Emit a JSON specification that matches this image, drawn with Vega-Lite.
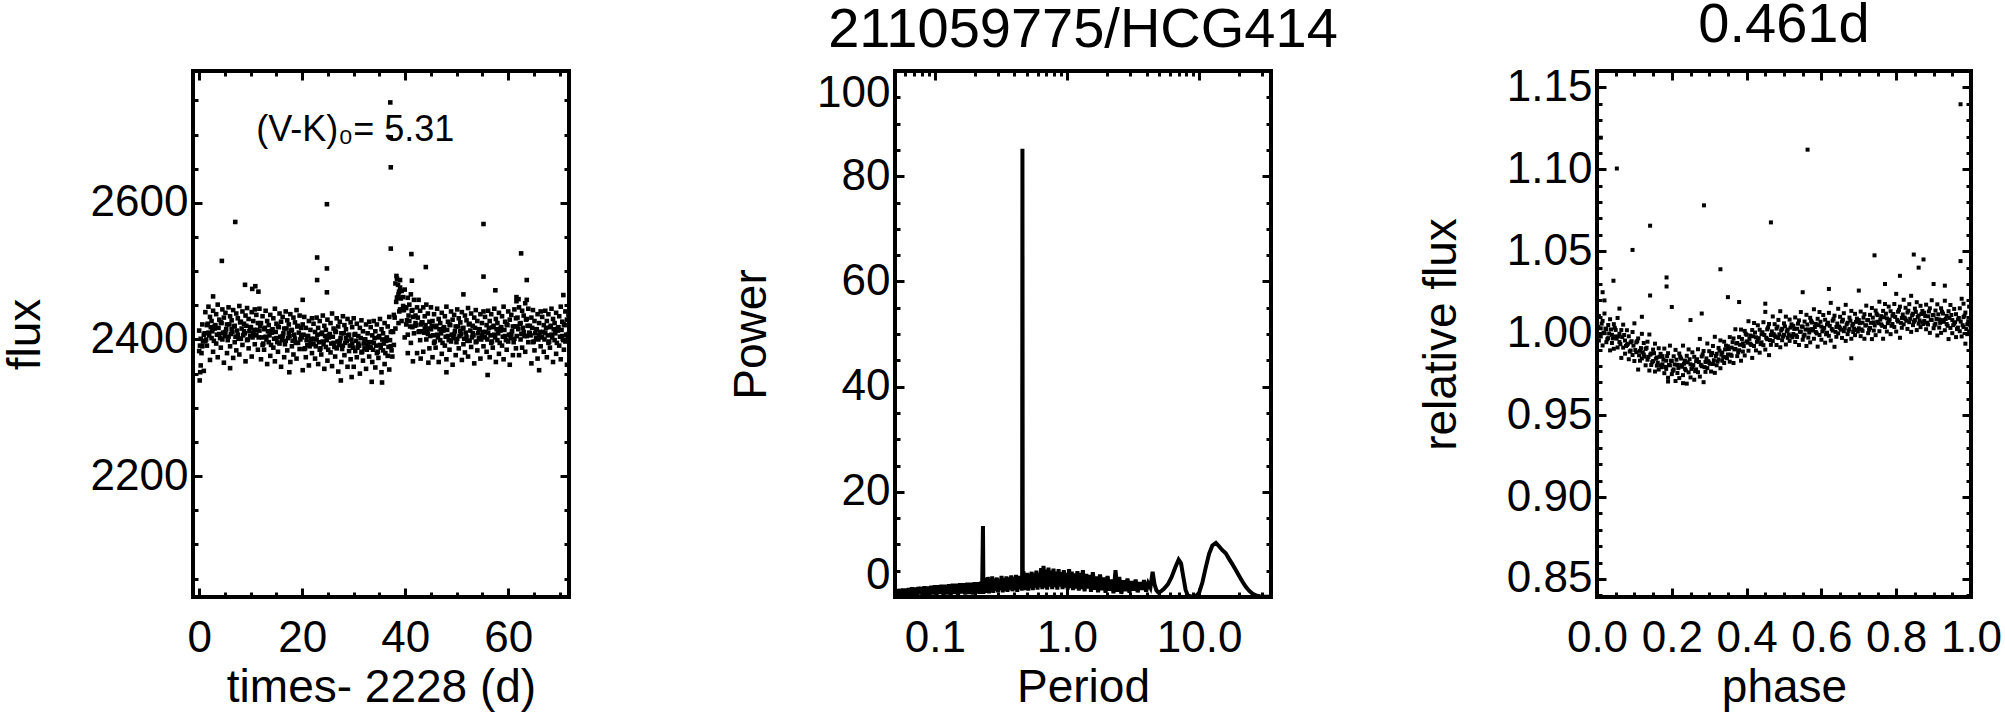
{
 "$schema": "https://vega.github.io/schema/vega-lite/v6.json",
 "background": "white",
 "padding": {"left": 0, "top": -5, "right": 0, "bottom": 0},
 "bounds": "flush",
 "spacing": 326,
 "config": {
  "font": "Liberation Sans",
  "view": {"stroke": "black", "strokeWidth": 4},
  "axis": {"domain": false, "grid": false, "labelFont": "Liberation Sans", "labelFontSize": 44, "labelColor": "black", "titleFont": "Liberation Sans", "titleFontSize": 46, "titleFontWeight": "normal", "titleColor": "black", "tickColor": "black", "tickWidth": 3, "labelOverlap": false, "labelBound": false, "labelFlush": false},
  "axisX": {"labelPadding": 28, "titlePadding": 1},
  "axisY": {"labelPadding": 14, "titlePadding": 41},
  "title": {"font": "Liberation Sans", "fontSize": 56, "fontWeight": "normal", "color": "black", "anchor": "middle", "offset": 11, "baseline": "alphabetic"}
 },
 "datasets": {
  "lc": [
{"t":0,"f":2413},{"t":0,"f":2383},{"t":0.3,"f":2401},{"t":0.3,"f":2362},{"t":0.6,"f":2422},{"t":0.6,"f":2390},{"t":0.9,"f":2407},{"t":0.9,"f":2354},
{"t":1.2,"f":2440},{"t":1.2,"f":2398},{"t":1.5,"f":2421},{"t":1.5,"f":2391},{"t":1.8,"f":2448},{"t":1.8,"f":2410},{"t":2.1,"f":2433},{"t":2.1,"f":2370},
{"t":2.4,"f":2427},{"t":2.4,"f":2402},{"t":2.7,"f":2442},{"t":2.7,"f":2382},{"t":3,"f":2419},{"t":3,"f":2416},{"t":3.3,"f":2437},{"t":3.3,"f":2394},
{"t":3.6,"f":2451},{"t":3.6,"f":2374},{"t":3.9,"f":2429},{"t":3.9,"f":2408},{"t":4.2,"f":2425},{"t":4.2,"f":2388},{"t":4.5,"f":2444},{"t":4.5,"f":2400},
{"t":4.8,"f":2432},{"t":4.8,"f":2366},{"t":5.1,"f":2439},{"t":5.1,"f":2411},{"t":5.4,"f":2422},{"t":5.4,"f":2380},{"t":5.7,"f":2447},{"t":5.7,"f":2404},
{"t":6,"f":2434},{"t":6,"f":2390},{"t":6.3,"f":2428},{"t":6.3,"f":2415},{"t":6.6,"f":2443},{"t":6.6,"f":2373},{"t":6.9,"f":2420},{"t":6.9,"f":2396},
{"t":7.2,"f":2438},{"t":7.2,"f":2384},{"t":7.5,"f":2431},{"t":7.5,"f":2407},{"t":7.8,"f":2449},{"t":7.8,"f":2378},{"t":8.1,"f":2426},{"t":8.1,"f":2401},
{"t":8.4,"f":2441},{"t":8.4,"f":2392},{"t":8.7,"f":2423},{"t":8.7,"f":2412},{"t":9,"f":2435},{"t":9,"f":2368},{"t":9.3,"f":2446},{"t":9.3,"f":2399},
{"t":9.6,"f":2430},{"t":9.6,"f":2387},{"t":9.9,"f":2418},{"t":9.9,"f":2405},{"t":10.2,"f":2440},{"t":10.2,"f":2375},{"t":10.5,"f":2427},{"t":10.5,"f":2409},
{"t":10.8,"f":2444},{"t":10.8,"f":2393},{"t":11.1,"f":2436},{"t":11.1,"f":2406},{"t":11.4,"f":2424},{"t":11.4,"f":2385},{"t":11.7,"f":2445},{"t":11.7,"f":2413},
{"t":12,"f":2424},{"t":12,"f":2371},{"t":12.3,"f":2434},{"t":12.3,"f":2392},{"t":12.6,"f":2415},{"t":12.6,"f":2385},{"t":12.9,"f":2442},{"t":12.9,"f":2404},
{"t":13.2,"f":2427},{"t":13.2,"f":2364},{"t":13.5,"f":2421},{"t":13.5,"f":2396},{"t":13.8,"f":2436},{"t":13.8,"f":2376},{"t":14.1,"f":2413},{"t":14.1,"f":2410},
{"t":14.4,"f":2431},{"t":14.4,"f":2388},{"t":14.7,"f":2445},{"t":14.7,"f":2368},{"t":15,"f":2423},{"t":15,"f":2402},{"t":15.3,"f":2419},{"t":15.3,"f":2382},
{"t":15.6,"f":2438},{"t":15.6,"f":2394},{"t":15.9,"f":2426},{"t":15.9,"f":2360},{"t":16.2,"f":2433},{"t":16.2,"f":2405},{"t":16.5,"f":2416},{"t":16.5,"f":2374},
{"t":16.8,"f":2441},{"t":16.8,"f":2398},{"t":17.1,"f":2428},{"t":17.1,"f":2384},{"t":17.4,"f":2422},{"t":17.4,"f":2409},{"t":17.7,"f":2437},{"t":17.7,"f":2367},
{"t":18,"f":2414},{"t":18,"f":2390},{"t":18.3,"f":2432},{"t":18.3,"f":2378},{"t":18.6,"f":2425},{"t":18.6,"f":2401},{"t":18.9,"f":2443},{"t":18.9,"f":2372},
{"t":19.2,"f":2420},{"t":19.2,"f":2395},{"t":19.5,"f":2435},{"t":19.5,"f":2386},{"t":19.8,"f":2417},{"t":19.8,"f":2406},{"t":20.1,"f":2422},{"t":20.1,"f":2355},
{"t":20.4,"f":2433},{"t":20.4,"f":2386},{"t":20.7,"f":2417},{"t":20.7,"f":2374},{"t":21,"f":2405},{"t":21,"f":2392},{"t":21.3,"f":2427},{"t":21.3,"f":2362},
{"t":21.6,"f":2414},{"t":21.6,"f":2396},{"t":21.9,"f":2431},{"t":21.9,"f":2380},{"t":22.2,"f":2423},{"t":22.2,"f":2393},{"t":22.5,"f":2411},{"t":22.5,"f":2372},
{"t":22.8,"f":2432},{"t":22.8,"f":2400},{"t":23.1,"f":2417},{"t":23.1,"f":2364},{"t":23.4,"f":2427},{"t":23.4,"f":2385},{"t":23.7,"f":2408},{"t":23.7,"f":2378},
{"t":24,"f":2435},{"t":24,"f":2397},{"t":24.3,"f":2420},{"t":24.3,"f":2357},{"t":24.6,"f":2414},{"t":24.6,"f":2389},{"t":24.9,"f":2429},{"t":24.9,"f":2369},
{"t":25.2,"f":2406},{"t":25.2,"f":2403},{"t":25.5,"f":2424},{"t":25.5,"f":2381},{"t":25.8,"f":2438},{"t":25.8,"f":2361},{"t":26.1,"f":2416},{"t":26.1,"f":2395},
{"t":26.4,"f":2412},{"t":26.4,"f":2375},{"t":26.7,"f":2431},{"t":26.7,"f":2387},{"t":27,"f":2419},{"t":27,"f":2353},{"t":27.3,"f":2426},{"t":27.3,"f":2398},
{"t":27.6,"f":2409},{"t":27.6,"f":2367},{"t":27.9,"f":2434},{"t":27.9,"f":2391},{"t":28.2,"f":2421},{"t":28.2,"f":2377},{"t":28.5,"f":2415},{"t":28.5,"f":2402},
{"t":28.8,"f":2430},{"t":28.8,"f":2360},{"t":29.1,"f":2407},{"t":29.1,"f":2383},{"t":29.4,"f":2425},{"t":29.4,"f":2371},{"t":29.7,"f":2418},{"t":29.7,"f":2394},
{"t":30,"f":2431},{"t":30,"f":2360},{"t":30.3,"f":2408},{"t":30.3,"f":2383},{"t":30.6,"f":2423},{"t":30.6,"f":2374},{"t":30.9,"f":2405},{"t":30.9,"f":2394},
{"t":31.2,"f":2417},{"t":31.2,"f":2350},{"t":31.5,"f":2428},{"t":31.5,"f":2381},{"t":31.8,"f":2412},{"t":31.8,"f":2369},{"t":32.1,"f":2400},{"t":32.1,"f":2387},
{"t":32.4,"f":2422},{"t":32.4,"f":2357},{"t":32.7,"f":2409},{"t":32.7,"f":2391},{"t":33,"f":2426},{"t":33,"f":2375},{"t":33.3,"f":2418},{"t":33.3,"f":2388},
{"t":33.6,"f":2406},{"t":33.6,"f":2367},{"t":33.9,"f":2427},{"t":33.9,"f":2395},{"t":34.2,"f":2412},{"t":34.2,"f":2359},{"t":34.5,"f":2422},{"t":34.5,"f":2380},
{"t":34.8,"f":2403},{"t":34.8,"f":2373},{"t":35.1,"f":2430},{"t":35.1,"f":2392},{"t":35.4,"f":2415},{"t":35.4,"f":2352},{"t":35.7,"f":2409},{"t":35.7,"f":2384},
{"t":36,"f":2424},{"t":36,"f":2364},{"t":36.3,"f":2401},{"t":36.3,"f":2398},{"t":36.6,"f":2419},{"t":36.6,"f":2376},{"t":36.9,"f":2433},{"t":36.9,"f":2356},
{"t":37.2,"f":2411},{"t":37.2,"f":2390},{"t":37.5,"f":2412},{"t":37.5,"f":2375},{"t":37.8,"f":2436},{"t":37.8,"f":2392},{"t":38.1,"f":2482},{"t":38.1,"f":2416},
{"t":38.4,"f":2489},{"t":38.4,"f":2461},{"t":38.7,"f":2466},{"t":38.7,"f":2424},{"t":39,"f":2487},{"t":39,"f":2444},{"t":39.3,"f":2471},{"t":39.3,"f":2427},
{"t":39.6,"f":2462},{"t":39.6,"f":2449},{"t":39.9,"f":2473},{"t":39.9,"f":2403},{"t":40.2,"f":2446},{"t":40.2,"f":2422},{"t":40.5,"f":2461},{"t":40.5,"f":2407},
{"t":40.8,"f":2451},{"t":40.8,"f":2427},{"t":41.1,"f":2466},{"t":41.1,"f":2395},{"t":41.4,"f":2443},{"t":41.4,"f":2418},{"t":41.7,"f":2458},{"t":41.7,"f":2409},
{"t":42,"f":2435},{"t":42,"f":2424},{"t":42.3,"f":2447},{"t":42.3,"f":2380},{"t":42.6,"f":2458},{"t":42.6,"f":2411},{"t":42.9,"f":2442},{"t":42.9,"f":2399},
{"t":43.2,"f":2425},{"t":43.2,"f":2412},{"t":43.5,"f":2447},{"t":43.5,"f":2382},{"t":43.8,"f":2434},{"t":43.8,"f":2416},{"t":44.1,"f":2451},{"t":44.1,"f":2400},
{"t":44.4,"f":2438},{"t":44.4,"f":2408},{"t":44.7,"f":2426},{"t":44.7,"f":2387},{"t":45,"f":2447},{"t":45,"f":2415},{"t":45.3,"f":2427},{"t":45.3,"f":2374},
{"t":45.6,"f":2437},{"t":45.6,"f":2395},{"t":45.9,"f":2418},{"t":45.9,"f":2388},{"t":46.2,"f":2445},{"t":46.2,"f":2407},{"t":46.5,"f":2430},{"t":46.5,"f":2367},
{"t":46.8,"f":2424},{"t":46.8,"f":2399},{"t":47.1,"f":2439},{"t":47.1,"f":2379},{"t":47.4,"f":2416},{"t":47.4,"f":2413},{"t":47.7,"f":2434},{"t":47.7,"f":2391},
{"t":48,"f":2448},{"t":48,"f":2371},{"t":48.3,"f":2426},{"t":48.3,"f":2405},{"t":48.6,"f":2422},{"t":48.6,"f":2385},{"t":48.9,"f":2441},{"t":48.9,"f":2397},
{"t":49.2,"f":2429},{"t":49.2,"f":2363},{"t":49.5,"f":2436},{"t":49.5,"f":2408},{"t":49.8,"f":2419},{"t":49.8,"f":2377},{"t":50.1,"f":2444},{"t":50.1,"f":2401},
{"t":50.4,"f":2431},{"t":50.4,"f":2387},{"t":50.7,"f":2425},{"t":50.7,"f":2412},{"t":51,"f":2440},{"t":51,"f":2370},{"t":51.3,"f":2417},{"t":51.3,"f":2393},
{"t":51.6,"f":2435},{"t":51.6,"f":2381},{"t":51.9,"f":2428},{"t":51.9,"f":2404},{"t":52.2,"f":2446},{"t":52.2,"f":2375},{"t":52.5,"f":2423},{"t":52.5,"f":2398},
{"t":52.8,"f":2438},{"t":52.8,"f":2389},{"t":53.1,"f":2420},{"t":53.1,"f":2409},{"t":53.4,"f":2432},{"t":53.4,"f":2365},{"t":53.7,"f":2443},{"t":53.7,"f":2396},
{"t":54,"f":2427},{"t":54,"f":2384},{"t":54.3,"f":2415},{"t":54.3,"f":2402},{"t":54.6,"f":2437},{"t":54.6,"f":2372},{"t":54.9,"f":2424},{"t":54.9,"f":2406},
{"t":55.2,"f":2441},{"t":55.2,"f":2390},{"t":55.5,"f":2433},{"t":55.5,"f":2403},{"t":55.8,"f":2421},{"t":55.8,"f":2382},{"t":56.1,"f":2442},{"t":56.1,"f":2410},
{"t":56.4,"f":2427},{"t":56.4,"f":2374},{"t":56.7,"f":2437},{"t":56.7,"f":2395},{"t":57,"f":2418},{"t":57,"f":2388},{"t":57.3,"f":2445},{"t":57.3,"f":2407},
{"t":57.6,"f":2430},{"t":57.6,"f":2367},{"t":57.9,"f":2424},{"t":57.9,"f":2399},{"t":58.2,"f":2439},{"t":58.2,"f":2379},{"t":58.5,"f":2416},{"t":58.5,"f":2413},
{"t":58.8,"f":2434},{"t":58.8,"f":2391},{"t":59.1,"f":2448},{"t":59.1,"f":2371},{"t":59.4,"f":2426},{"t":59.4,"f":2405},{"t":59.7,"f":2422},{"t":59.7,"f":2385},
{"t":60,"f":2441},{"t":60,"f":2397},{"t":60.3,"f":2429},{"t":60.3,"f":2363},{"t":60.6,"f":2436},{"t":60.6,"f":2408},{"t":60.9,"f":2419},{"t":60.9,"f":2377},
{"t":61.2,"f":2444},{"t":61.2,"f":2401},{"t":61.5,"f":2431},{"t":61.5,"f":2387},{"t":61.8,"f":2432},{"t":61.8,"f":2419},{"t":62.1,"f":2447},{"t":62.1,"f":2377},
{"t":62.4,"f":2424},{"t":62.4,"f":2400},{"t":62.7,"f":2442},{"t":62.7,"f":2388},{"t":63,"f":2435},{"t":63,"f":2411},{"t":63.3,"f":2453},{"t":63.3,"f":2382},
{"t":63.6,"f":2430},{"t":63.6,"f":2405},{"t":63.9,"f":2445},{"t":63.9,"f":2396},{"t":64.2,"f":2420},{"t":64.2,"f":2409},{"t":64.5,"f":2432},{"t":64.5,"f":2365},
{"t":64.8,"f":2443},{"t":64.8,"f":2396},{"t":65.1,"f":2427},{"t":65.1,"f":2384},{"t":65.4,"f":2415},{"t":65.4,"f":2402},{"t":65.7,"f":2437},{"t":65.7,"f":2372},
{"t":66,"f":2424},{"t":66,"f":2406},{"t":66.3,"f":2441},{"t":66.3,"f":2390},{"t":66.6,"f":2433},{"t":66.6,"f":2403},{"t":66.9,"f":2421},{"t":66.9,"f":2382},
{"t":67.2,"f":2442},{"t":67.2,"f":2410},{"t":67.5,"f":2427},{"t":67.5,"f":2374},{"t":67.8,"f":2437},{"t":67.8,"f":2395},{"t":68.1,"f":2418},{"t":68.1,"f":2388},
{"t":68.4,"f":2445},{"t":68.4,"f":2407},{"t":68.7,"f":2430},{"t":68.7,"f":2367},{"t":69,"f":2424},{"t":69,"f":2399},{"t":69.3,"f":2439},{"t":69.3,"f":2379},
{"t":69.6,"f":2416},{"t":69.6,"f":2413},{"t":69.9,"f":2434},{"t":69.9,"f":2391},{"t":70.2,"f":2448},{"t":70.2,"f":2371},{"t":70.5,"f":2426},{"t":70.5,"f":2405},
{"t":70.8,"f":2422},{"t":70.8,"f":2385},{"t":71.1,"f":2441},{"t":71.1,"f":2397},{"t":71.4,"f":2429},{"t":71.4,"f":2363},{"t":71.7,"f":2436},{"t":71.7,"f":2408},
{"t":0.15,"f":2391},{"t":0.45,"f":2380},{"t":0.75,"f":2397},{"t":1.05,"f":2409},{"t":1.35,"f":2400},{"t":1.65,"f":2423},{"t":1.95,"f":2406},{"t":2.25,"f":2418},
{"t":2.55,"f":2412},{"t":2.85,"f":2398},{"t":3.15,"f":2421},{"t":3.45,"f":2407},{"t":3.75,"f":2417},{"t":4.05,"f":2402},{"t":4.35,"f":2424},{"t":4.65,"f":2410},
{"t":4.95,"f":2405},{"t":5.25,"f":2415},{"t":5.55,"f":2399},{"t":5.85,"f":2422},{"t":6.15,"f":2408},{"t":6.45,"f":2411},{"t":6.75,"f":2419},{"t":7.05,"f":2404},
{"t":7.35,"f":2413},{"t":7.65,"f":2401},{"t":7.95,"f":2425},{"t":8.25,"f":2416},{"t":8.55,"f":2406},{"t":8.85,"f":2409},{"t":9.15,"f":2420},{"t":9.45,"f":2400},
{"t":9.75,"f":2412},{"t":10.05,"f":2418},{"t":10.35,"f":2403},{"t":10.65,"f":2414},{"t":10.95,"f":2407},{"t":11.25,"f":2414},{"t":11.55,"f":2403},{"t":11.85,"f":2420},
{"t":12.15,"f":2403},{"t":12.45,"f":2394},{"t":12.75,"f":2417},{"t":13.05,"f":2400},{"t":13.35,"f":2412},{"t":13.65,"f":2406},{"t":13.95,"f":2392},{"t":14.25,"f":2415},
{"t":14.55,"f":2401},{"t":14.85,"f":2411},{"t":15.15,"f":2396},{"t":15.45,"f":2418},{"t":15.75,"f":2404},{"t":16.05,"f":2399},{"t":16.35,"f":2409},{"t":16.65,"f":2393},
{"t":16.95,"f":2416},{"t":17.25,"f":2402},{"t":17.55,"f":2405},{"t":17.85,"f":2413},{"t":18.15,"f":2398},{"t":18.45,"f":2407},{"t":18.75,"f":2395},{"t":19.05,"f":2419},
{"t":19.35,"f":2410},{"t":19.65,"f":2400},{"t":19.95,"f":2403},{"t":20.25,"f":2407},{"t":20.55,"f":2387},{"t":20.85,"f":2399},{"t":21.15,"f":2405},{"t":21.45,"f":2390},
{"t":21.75,"f":2401},{"t":22.05,"f":2394},{"t":22.35,"f":2401},{"t":22.65,"f":2390},{"t":22.95,"f":2407},{"t":23.25,"f":2396},{"t":23.55,"f":2387},{"t":23.85,"f":2410},
{"t":24.15,"f":2393},{"t":24.45,"f":2405},{"t":24.75,"f":2399},{"t":25.05,"f":2385},{"t":25.35,"f":2408},{"t":25.65,"f":2394},{"t":25.95,"f":2404},{"t":26.25,"f":2389},
{"t":26.55,"f":2411},{"t":26.85,"f":2397},{"t":27.15,"f":2392},{"t":27.45,"f":2402},{"t":27.75,"f":2386},{"t":28.05,"f":2409},{"t":28.35,"f":2395},{"t":28.65,"f":2398},
{"t":28.95,"f":2406},{"t":29.25,"f":2391},{"t":29.55,"f":2400},{"t":29.85,"f":2388},{"t":30.15,"f":2407},{"t":30.45,"f":2398},{"t":30.75,"f":2388},{"t":31.05,"f":2391},
{"t":31.35,"f":2402},{"t":31.65,"f":2382},{"t":31.95,"f":2394},{"t":32.25,"f":2400},{"t":32.55,"f":2385},{"t":32.85,"f":2396},{"t":33.15,"f":2389},{"t":33.45,"f":2396},
{"t":33.75,"f":2385},{"t":34.05,"f":2402},{"t":34.35,"f":2391},{"t":34.65,"f":2382},{"t":34.95,"f":2405},{"t":35.25,"f":2388},{"t":35.55,"f":2400},{"t":35.85,"f":2394},
{"t":36.15,"f":2380},{"t":36.45,"f":2403},{"t":36.75,"f":2389},{"t":37.05,"f":2399},{"t":37.35,"f":2384},{"t":37.65,"f":2411},{"t":37.95,"f":2432},{"t":38.25,"f":2455},
{"t":38.55,"f":2462},{"t":38.85,"f":2441},{"t":39.15,"f":2460},{"t":39.45,"f":2443},{"t":39.75,"f":2443},{"t":40.05,"f":2447},{"t":40.35,"f":2428},{"t":40.65,"f":2435},
{"t":40.95,"f":2419},{"t":41.25,"f":2442},{"t":41.55,"f":2433},{"t":41.85,"f":2420},{"t":42.15,"f":2421},{"t":42.45,"f":2432},{"t":42.75,"f":2412},{"t":43.05,"f":2422},
{"t":43.35,"f":2425},{"t":43.65,"f":2410},{"t":43.95,"f":2421},{"t":44.25,"f":2411},{"t":44.55,"f":2416},{"t":44.85,"f":2405},{"t":45.15,"f":2420},{"t":45.45,"f":2406},
{"t":45.75,"f":2397},{"t":46.05,"f":2420},{"t":46.35,"f":2403},{"t":46.65,"f":2415},{"t":46.95,"f":2409},{"t":47.25,"f":2395},{"t":47.55,"f":2418},{"t":47.85,"f":2404},
{"t":48.15,"f":2414},{"t":48.45,"f":2399},{"t":48.75,"f":2421},{"t":49.05,"f":2407},{"t":49.35,"f":2402},{"t":49.65,"f":2412},{"t":49.95,"f":2396},{"t":50.25,"f":2419},
{"t":50.55,"f":2405},{"t":50.85,"f":2408},{"t":51.15,"f":2416},{"t":51.45,"f":2401},{"t":51.75,"f":2410},{"t":52.05,"f":2398},{"t":52.35,"f":2422},{"t":52.65,"f":2413},
{"t":52.95,"f":2403},{"t":53.25,"f":2406},{"t":53.55,"f":2417},{"t":53.85,"f":2397},{"t":54.15,"f":2409},{"t":54.45,"f":2415},{"t":54.75,"f":2400},{"t":55.05,"f":2411},
{"t":55.35,"f":2404},{"t":55.65,"f":2411},{"t":55.95,"f":2400},{"t":56.25,"f":2417},{"t":56.55,"f":2406},{"t":56.85,"f":2397},{"t":57.15,"f":2420},{"t":57.45,"f":2403},
{"t":57.75,"f":2415},{"t":58.05,"f":2409},{"t":58.35,"f":2395},{"t":58.65,"f":2418},{"t":58.95,"f":2404},{"t":59.25,"f":2414},{"t":59.55,"f":2399},{"t":59.85,"f":2421},
{"t":60.15,"f":2407},{"t":60.45,"f":2402},{"t":60.75,"f":2412},{"t":61.05,"f":2396},{"t":61.35,"f":2419},{"t":61.65,"f":2405},{"t":61.95,"f":2415},{"t":62.25,"f":2423},
{"t":62.55,"f":2408},{"t":62.85,"f":2417},{"t":63.15,"f":2405},{"t":63.45,"f":2429},{"t":63.75,"f":2420},{"t":64.05,"f":2410},{"t":64.35,"f":2406},{"t":64.65,"f":2417},
{"t":64.95,"f":2397},{"t":65.25,"f":2409},{"t":65.55,"f":2415},{"t":65.85,"f":2400},{"t":66.15,"f":2411},{"t":66.45,"f":2404},{"t":66.75,"f":2411},{"t":67.05,"f":2400},
{"t":67.35,"f":2417},{"t":67.65,"f":2406},{"t":67.95,"f":2397},{"t":68.25,"f":2420},{"t":68.55,"f":2403},{"t":68.85,"f":2415},{"t":69.15,"f":2409},{"t":69.45,"f":2395},
{"t":69.75,"f":2418},{"t":70.05,"f":2404},{"t":70.35,"f":2414},{"t":70.65,"f":2399},{"t":70.95,"f":2421},{"t":71.25,"f":2407},{"t":71.55,"f":2402},
{"t":37.1,"f":2747},{"t":37.2,"f":2696},{"t":37.2,"f":2652},{"t":24.8,"f":2598},{"t":7.0,"f":2572},{"t":4.4,"f":2515},{"t":22.9,"f":2520},{"t":24.8,"f":2504},
{"t":22.9,"f":2487},{"t":37.2,"f":2533},{"t":41.2,"f":2525},{"t":44.0,"f":2506},{"t":55.2,"f":2569},{"t":55.2,"f":2492},{"t":62.5,"f":2526},{"t":63.6,"f":2487},
{"t":41.3,"f":2486},{"t":8.9,"f":2480},{"t":10.3,"f":2474},{"t":10.9,"f":2478},{"t":11.5,"f":2470},{"t":2.7,"f":2463},{"t":24.8,"f":2469},{"t":20.1,"f":2458},
{"t":51.3,"f":2466},{"t":57.5,"f":2472},{"t":70.7,"f":2465},{"t":61.6,"f":2462},{"t":61.6,"f":2456},{"t":62.0,"f":2459},{"t":63.6,"f":2458},{"t":38.3,"f":2493},
{"t":38.6,"f":2480},{"t":39.0,"f":2476},{"t":38.8,"f":2470},{"t":0.1,"f":2340},{"t":0.2,"f":2352},{"t":27.5,"f":2340},{"t":33.5,"f":2338},{"t":35.5,"f":2337},
{"t":29.6,"f":2345},{"t":41.5,"f":2368},{"t":43.0,"f":2372},{"t":44.5,"f":2366},{"t":40.5,"f":2380},{"t":56.0,"f":2348},{"t":66.0,"f":2355},{"t":48.0,"f":2352},
{"t":17.5,"f":2352},{"t":6.0,"f":2358}
  ],
  "pg": [
{"p":0.05,"w":0.3},{"p":0.0505,"w":1.4},{"p":0.0515,"w":0.2},{"p":0.0525,"w":1.5},{"p":0.0535,"w":0.3},{"p":0.055,"w":1.5},{"p":0.056,"w":0.2},{"p":0.0575,"w":1.6},
{"p":0.059,"w":0.4},{"p":0.0605,"w":1.6},{"p":0.062,"w":0.2},{"p":0.0635,"w":1.7},{"p":0.065,"w":0.3},{"p":0.067,"w":1.8},{"p":0.069,"w":0.4},{"p":0.071,"w":1.8},
{"p":0.073,"w":0.2},{"p":0.075,"w":1.9},{"p":0.077,"w":0.5},{"p":0.079,"w":1.9},{"p":0.081,"w":0.3},{"p":0.0835,"w":2.0},{"p":0.086,"w":0.4},{"p":0.0885,"w":2.0},
{"p":0.091,"w":0.3},{"p":0.094,"w":2.1},{"p":0.097,"w":0.5},{"p":0.1,"w":2.2},{"p":0.103,"w":0.3},{"p":0.106,"w":2.2},{"p":0.109,"w":0.6},{"p":0.112,"w":2.3},
{"p":0.116,"w":0.4},{"p":0.12,"w":2.3},{"p":0.124,"w":0.5},{"p":0.128,"w":2.4},{"p":0.132,"w":0.4},{"p":0.136,"w":2.5},{"p":0.14,"w":0.6},{"p":0.145,"w":2.5},
{"p":0.15,"w":0.4},{"p":0.155,"w":2.6},{"p":0.16,"w":0.7},{"p":0.165,"w":2.6},{"p":0.17,"w":0.5},{"p":0.176,"w":2.7},{"p":0.182,"w":0.6},{"p":0.188,"w":2.7},
{"p":0.194,"w":0.5},{"p":0.2,"w":2.8},{"p":0.206,"w":0.7},{"p":0.212,"w":2.8},{"p":0.218,"w":0.6},{"p":0.224,"w":2.9},{"p":0.228,"w":0.8},{"p":0.2315,"w":13.5},
{"p":0.2335,"w":0.6},{"p":0.236,"w":3.6},{"p":0.24,"w":0.8},{"p":0.244,"w":3.2},{"p":0.248,"w":1.0},{"p":0.252,"w":3.8},{"p":0.257,"w":0.7},{"p":0.262,"w":3.4},
{"p":0.267,"w":1.1},{"p":0.272,"w":3.9},{"p":0.277,"w":0.8},{"p":0.283,"w":3.5},{"p":0.289,"w":1.2},{"p":0.295,"w":3.7},{"p":0.301,"w":0.9},{"p":0.307,"w":3.4},
{"p":0.313,"w":1.3},{"p":0.32,"w":4.0},{"p":0.327,"w":0.9},{"p":0.334,"w":3.6},{"p":0.341,"w":1.2},{"p":0.348,"w":3.9},{"p":0.355,"w":1.0},{"p":0.363,"w":3.7},
{"p":0.371,"w":1.4},{"p":0.379,"w":4.1},{"p":0.387,"w":1.1},{"p":0.395,"w":3.8},{"p":0.403,"w":1.3},{"p":0.412,"w":4.2},{"p":0.421,"w":1.0},{"p":0.43,"w":4.0},
{"p":0.44,"w":1.5},{"p":0.45,"w":3.9},{"p":0.458,"w":1.2},{"p":0.4605,"w":85.2},{"p":0.463,"w":1.5},{"p":0.468,"w":4.9},{"p":0.476,"w":1.3},{"p":0.484,"w":4.3},
{"p":0.492,"w":1.6},{"p":0.5,"w":4.6},{"p":0.51,"w":1.2},{"p":0.52,"w":4.4},{"p":0.53,"w":1.7},{"p":0.541,"w":4.8},{"p":0.552,"w":1.3},{"p":0.563,"w":4.5},
{"p":0.575,"w":1.8},{"p":0.587,"w":5.0},{"p":0.599,"w":1.4},{"p":0.612,"w":4.6},{"p":0.625,"w":1.9},{"p":0.638,"w":5.5},{"p":0.651,"w":1.5},{"p":0.665,"w":5.9},
{"p":0.679,"w":1.8},{"p":0.694,"w":5.2},{"p":0.709,"w":1.4},{"p":0.725,"w":5.6},{"p":0.741,"w":2.0},{"p":0.757,"w":5.0},{"p":0.774,"w":1.5},{"p":0.791,"w":5.4},
{"p":0.809,"w":1.9},{"p":0.827,"w":4.8},{"p":0.846,"w":1.4},{"p":0.865,"w":5.3},{"p":0.885,"w":2.0},{"p":0.905,"w":4.7},{"p":0.926,"w":1.5},{"p":0.947,"w":5.1},
{"p":0.969,"w":1.8},{"p":0.991,"w":4.6},{"p":1.014,"w":1.4},{"p":1.038,"w":5.3},{"p":1.062,"w":1.7},{"p":1.087,"w":4.8},{"p":1.113,"w":1.3},{"p":1.14,"w":4.5},
{"p":1.17,"w":1.6},{"p":1.2,"w":4.9},{"p":1.23,"w":1.2},{"p":1.26,"w":4.6},{"p":1.29,"w":1.5},{"p":1.32,"w":5.1},{"p":1.36,"w":1.1},{"p":1.4,"w":4.4},
{"p":1.44,"w":1.6},{"p":1.48,"w":4.2},{"p":1.52,"w":1.0},{"p":1.57,"w":4.7},{"p":1.62,"w":1.4},{"p":1.67,"w":3.9},{"p":1.72,"w":0.9},{"p":1.78,"w":4.3},
{"p":1.84,"w":1.3},{"p":1.9,"w":3.7},{"p":1.96,"w":0.8},{"p":2.03,"w":4.0},{"p":2.1,"w":1.2},{"p":2.17,"w":3.3},{"p":2.25,"w":0.7},{"p":2.33,"w":5.1},
{"p":2.41,"w":1.0},{"p":2.49,"w":3.8},{"p":2.58,"w":0.6},{"p":2.67,"w":3.2},{"p":2.77,"w":1.1},{"p":2.87,"w":3.5},{"p":2.97,"w":0.8},{"p":3.08,"w":3.0},
{"p":3.19,"w":1.2},{"p":3.31,"w":3.3},{"p":3.43,"w":0.9},{"p":3.56,"w":2.8},{"p":3.69,"w":1.4},{"p":3.83,"w":3.2},{"p":3.97,"w":1.0},{"p":4.12,"w":2.6},
{"p":4.28,"w":1.8},{"p":4.45,"w":4.8},{"p":4.6,"w":2.4},{"p":4.75,"w":1.3},{"p":4.9,"w":0.9},{"p":5.1,"w":1.0},{"p":5.4,"w":1.5},{"p":5.8,"w":2.4},
{"p":6.2,"w":3.8},{"p":6.6,"w":5.6},{"p":7.0,"w":7.1},{"p":7.3,"w":6.4},{"p":7.6,"w":3.8},{"p":7.9,"w":1.4},{"p":8.2,"w":0.3},{"p":8.6,"w":0.1},
{"p":9.0,"w":0.1},{"p":9.5,"w":0.2},{"p":10.0,"w":0.8},{"p":10.6,"w":2.8},{"p":11.2,"w":5.5},{"p":11.9,"w":8.2},{"p":12.6,"w":9.8},{"p":13.4,"w":10.3},
{"p":14.2,"w":9.6},{"p":15.0,"w":8.9},{"p":15.9,"w":8.3},{"p":16.8,"w":7.3},{"p":17.8,"w":6.3},{"p":18.9,"w":5.2},{"p":20.0,"w":4.1},{"p":21.2,"w":3.0},
{"p":22.5,"w":2.0},{"p":23.9,"w":1.2},{"p":25.4,"w":0.6},{"p":27.0,"w":0.3},{"p":28.7,"w":0.15},{"p":30.5,"w":0.08},{"p":32.4,"w":0.05},{"p":35.0,"w":0.03}
  ],
  "ph": [
{"x":0,"r":1.006},{"x":0,"r":1.001},{"x":0.005,"r":1.0105},{"x":0.005,"r":0.9955},{"x":0.01,"r":1.003},{"x":0.01,"r":0.998},{"x":0.015,"r":1.0075},{"x":0.015,"r":0.9925},
{"x":0.02,"r":1.012},{"x":0.02,"r":1.0},{"x":0.025,"r":1.0025},{"x":0.025,"r":0.9945},{"x":0.03,"r":1.005},{"x":0.03,"r":0.997},{"x":0.035,"r":1.0085},{"x":0.035,"r":0.9895},
{"x":0.04,"r":0.999},{"x":0.04,"r":0.994},{"x":0.045,"r":1.0055},{"x":0.045,"r":0.9905},{"x":0.05,"r":1.002},{"x":0.05,"r":0.998},{"x":0.055,"r":1.0093},{"x":0.055,"r":0.9913},
{"x":0.06,"r":0.9996},{"x":0.06,"r":0.9946},{"x":0.065,"r":1.0019},{"x":0.065,"r":0.9849},{"x":0.07,"r":1.0052},{"x":0.07,"r":0.9912},{"x":0.075,"r":0.9955},{"x":0.075,"r":0.9875},
{"x":0.08,"r":1.0018},{"x":0.08,"r":0.9928},{"x":0.085,"r":0.9981},{"x":0.085,"r":0.9841},{"x":0.09,"r":0.9944},{"x":0.09,"r":0.9894},{"x":0.095,"r":1.0007},{"x":0.095,"r":0.9867},
{"x":0.1,"r":1.006},{"x":0.1,"r":0.983},{"x":0.105,"r":0.9944},{"x":0.105,"r":0.9884},{"x":0.11,"r":0.9968},{"x":0.11,"r":0.9778},{"x":0.115,"r":0.9892},{"x":0.115,"r":0.9832},
{"x":0.12,"r":0.9996},{"x":0.12,"r":0.9846},{"x":0.125,"r":0.994},{"x":0.125,"r":0.987},{"x":0.13,"r":0.9904},{"x":0.13,"r":0.9804},{"x":0.135,"r":0.9948},{"x":0.135,"r":0.9838},
{"x":0.14,"r":0.9992},{"x":0.14,"r":0.9772},{"x":0.145,"r":0.9876},{"x":0.145,"r":0.9806},{"x":0.15,"r":0.99},{"x":0.15,"r":0.983},{"x":0.155,"r":0.9936},{"x":0.155,"r":0.9766},
{"x":0.16,"r":0.9852},{"x":0.16,"r":0.9802},{"x":0.165,"r":0.9908},{"x":0.165,"r":0.9778},{"x":0.17,"r":0.9874},{"x":0.17,"r":0.9804},{"x":0.175,"r":0.986},{"x":0.175,"r":0.981},
{"x":0.18,"r":0.9906},{"x":0.18,"r":0.9756},{"x":0.185,"r":0.9832},{"x":0.185,"r":0.9782},{"x":0.19,"r":0.9878},{"x":0.19,"r":0.9728},{"x":0.195,"r":0.9924},{"x":0.195,"r":0.9804},
{"x":0.2,"r":0.983},{"x":0.2,"r":0.975},{"x":0.205,"r":0.9859},{"x":0.205,"r":0.9779},{"x":0.21,"r":0.9898},{"x":0.21,"r":0.9708},{"x":0.215,"r":0.9807},{"x":0.215,"r":0.9757},
{"x":0.22,"r":0.9876},{"x":0.22,"r":0.9726},{"x":0.225,"r":0.9845},{"x":0.225,"r":0.9805},{"x":0.23,"r":0.9924},{"x":0.23,"r":0.9744},{"x":0.235,"r":0.9833},{"x":0.235,"r":0.9783},
{"x":0.24,"r":0.9862},{"x":0.24,"r":0.9692},{"x":0.245,"r":0.9901},{"x":0.245,"r":0.9761},{"x":0.25,"r":0.981},{"x":0.25,"r":0.973},{"x":0.255,"r":0.9883},{"x":0.255,"r":0.9793},
{"x":0.26,"r":0.9856},{"x":0.26,"r":0.9716},{"x":0.265,"r":0.9829},{"x":0.265,"r":0.9779},{"x":0.27,"r":0.9902},{"x":0.27,"r":0.9762},{"x":0.275,"r":0.9965},{"x":0.275,"r":0.9735},
{"x":0.28,"r":0.9858},{"x":0.28,"r":0.9798},{"x":0.285,"r":0.9891},{"x":0.285,"r":0.9701},{"x":0.29,"r":0.9824},{"x":0.29,"r":0.9764},{"x":0.295,"r":0.9937},{"x":0.295,"r":0.9787},
{"x":0.3,"r":0.989},{"x":0.3,"r":0.982},{"x":0.305,"r":0.9866},{"x":0.305,"r":0.9766},{"x":0.31,"r":0.9922},{"x":0.31,"r":0.9812},{"x":0.315,"r":0.9978},{"x":0.315,"r":0.9758},
{"x":0.32,"r":0.9874},{"x":0.32,"r":0.9804},{"x":0.325,"r":0.991},{"x":0.325,"r":0.984},{"x":0.33,"r":0.9956},{"x":0.33,"r":0.9786},{"x":0.335,"r":0.9882},{"x":0.335,"r":0.9832},
{"x":0.34,"r":0.9948},{"x":0.34,"r":0.9818},{"x":0.345,"r":0.9924},{"x":0.345,"r":0.9854},{"x":0.35,"r":0.992},{"x":0.35,"r":0.987},{"x":0.355,"r":0.9976},{"x":0.355,"r":0.9826},
{"x":0.36,"r":0.9912},{"x":0.36,"r":0.9862},{"x":0.365,"r":0.9968},{"x":0.365,"r":0.9818},{"x":0.37,"r":1.0024},{"x":0.37,"r":0.9904},{"x":0.375,"r":0.994},{"x":0.375,"r":0.986},
{"x":0.38,"r":0.9976},{"x":0.38,"r":0.9896},{"x":0.385,"r":1.0022},{"x":0.385,"r":0.9832},{"x":0.39,"r":0.9938},{"x":0.39,"r":0.9888},{"x":0.395,"r":1.0014},{"x":0.395,"r":0.9864},
{"x":0.4,"r":0.999},{"x":0.4,"r":0.995},{"x":0.405,"r":1.0073},{"x":0.405,"r":0.9893},{"x":0.41,"r":0.9986},{"x":0.41,"r":0.9936},{"x":0.415,"r":1.0019},{"x":0.415,"r":0.9849},
{"x":0.42,"r":1.0062},{"x":0.42,"r":0.9922},{"x":0.425,"r":0.9975},{"x":0.425,"r":0.9895},{"x":0.43,"r":1.0048},{"x":0.43,"r":0.9958},{"x":0.435,"r":1.0021},{"x":0.435,"r":0.9881},
{"x":0.44,"r":0.9994},{"x":0.44,"r":0.9944},{"x":0.445,"r":1.0067},{"x":0.445,"r":0.9927},{"x":0.45,"r":1.013},{"x":0.45,"r":0.99},{"x":0.455,"r":1.0023},{"x":0.455,"r":0.9963},
{"x":0.46,"r":1.0056},{"x":0.46,"r":0.9866},{"x":0.465,"r":0.9989},{"x":0.465,"r":0.9929},{"x":0.47,"r":1.0102},{"x":0.47,"r":0.9952},{"x":0.475,"r":1.0055},{"x":0.475,"r":0.9985},
{"x":0.48,"r":1.0028},{"x":0.48,"r":0.9928},{"x":0.485,"r":1.0081},{"x":0.485,"r":0.9971},{"x":0.49,"r":1.0134},{"x":0.49,"r":0.9914},{"x":0.495,"r":1.0027},{"x":0.495,"r":0.9957},
{"x":0.5,"r":1.006},{"x":0.5,"r":0.999},{"x":0.505,"r":1.0101},{"x":0.505,"r":0.9931},{"x":0.51,"r":1.0022},{"x":0.51,"r":0.9972},{"x":0.515,"r":1.0083},{"x":0.515,"r":0.9953},
{"x":0.52,"r":1.0054},{"x":0.52,"r":0.9984},{"x":0.525,"r":1.0045},{"x":0.525,"r":0.9995},{"x":0.53,"r":1.0096},{"x":0.53,"r":0.9946},{"x":0.535,"r":1.0027},{"x":0.535,"r":0.9977},
{"x":0.54,"r":1.0078},{"x":0.54,"r":0.9928},{"x":0.545,"r":1.0129},{"x":0.545,"r":1.0009},{"x":0.55,"r":1.004},{"x":0.55,"r":0.996},{"x":0.555,"r":1.0071},{"x":0.555,"r":0.9991},
{"x":0.56,"r":1.0112},{"x":0.56,"r":0.9922},{"x":0.565,"r":1.0023},{"x":0.565,"r":0.9973},{"x":0.57,"r":1.0094},{"x":0.57,"r":0.9944},{"x":0.575,"r":1.0065},{"x":0.575,"r":1.0025},
{"x":0.58,"r":1.0146},{"x":0.58,"r":0.9966},{"x":0.585,"r":1.0057},{"x":0.585,"r":1.0007},{"x":0.59,"r":1.0088},{"x":0.59,"r":0.9918},{"x":0.595,"r":1.0129},{"x":0.595,"r":0.9989},
{"x":0.6,"r":1.004},{"x":0.6,"r":0.996},{"x":0.605,"r":1.0111},{"x":0.605,"r":1.0021},{"x":0.61,"r":1.0082},{"x":0.61,"r":0.9942},{"x":0.615,"r":1.0053},{"x":0.615,"r":1.0003},
{"x":0.62,"r":1.0124},{"x":0.62,"r":0.9984},{"x":0.625,"r":1.0185},{"x":0.625,"r":0.9955},{"x":0.63,"r":1.0076},{"x":0.63,"r":1.0016},{"x":0.635,"r":1.0107},{"x":0.635,"r":0.9917},
{"x":0.64,"r":1.0038},{"x":0.64,"r":0.9978},{"x":0.645,"r":1.0149},{"x":0.645,"r":0.9999},{"x":0.65,"r":1.01},{"x":0.65,"r":1.003},{"x":0.655,"r":1.0071},{"x":0.655,"r":0.9971},
{"x":0.66,"r":1.0122},{"x":0.66,"r":1.0012},{"x":0.665,"r":1.0173},{"x":0.665,"r":0.9953},{"x":0.67,"r":1.0064},{"x":0.67,"r":0.9994},{"x":0.675,"r":1.0095},{"x":0.675,"r":1.0025},
{"x":0.68,"r":1.0136},{"x":0.68,"r":0.9966},{"x":0.685,"r":1.0057},{"x":0.685,"r":1.0007},{"x":0.69,"r":1.0118},{"x":0.69,"r":0.9988},{"x":0.695,"r":1.0089},{"x":0.695,"r":1.0019},
{"x":0.7,"r":1.008},{"x":0.7,"r":1.003},{"x":0.705,"r":1.0132},{"x":0.705,"r":0.9982},{"x":0.71,"r":1.0064},{"x":0.71,"r":1.0014},{"x":0.715,"r":1.0116},{"x":0.715,"r":0.9966},
{"x":0.72,"r":1.0168},{"x":0.72,"r":1.0048},{"x":0.725,"r":1.008},{"x":0.725,"r":1.0},{"x":0.73,"r":1.0112},{"x":0.73,"r":1.0032},{"x":0.735,"r":1.0154},{"x":0.735,"r":0.9964},
{"x":0.74,"r":1.0066},{"x":0.74,"r":1.0016},{"x":0.745,"r":1.0138},{"x":0.745,"r":0.9988},{"x":0.75,"r":1.011},{"x":0.75,"r":1.007},{"x":0.755,"r":1.0192},{"x":0.755,"r":1.0012},
{"x":0.76,"r":1.0104},{"x":0.76,"r":1.0054},{"x":0.765,"r":1.0136},{"x":0.765,"r":0.9966},{"x":0.77,"r":1.0178},{"x":0.77,"r":1.0038},{"x":0.775,"r":1.009},{"x":0.775,"r":1.001},
{"x":0.78,"r":1.0162},{"x":0.78,"r":1.0072},{"x":0.785,"r":1.0134},{"x":0.785,"r":0.9994},{"x":0.79,"r":1.0106},{"x":0.79,"r":1.0056},{"x":0.795,"r":1.0178},{"x":0.795,"r":1.0038},
{"x":0.8,"r":1.024},{"x":0.8,"r":1.001},{"x":0.805,"r":1.0131},{"x":0.805,"r":1.0071},{"x":0.81,"r":1.0162},{"x":0.81,"r":0.9972},{"x":0.815,"r":1.0093},{"x":0.815,"r":1.0033},
{"x":0.82,"r":1.0204},{"x":0.82,"r":1.0054},{"x":0.825,"r":1.0155},{"x":0.825,"r":1.0085},{"x":0.83,"r":1.0126},{"x":0.83,"r":1.0026},{"x":0.835,"r":1.0177},{"x":0.835,"r":1.0067},
{"x":0.84,"r":1.0228},{"x":0.84,"r":1.0008},{"x":0.845,"r":1.0119},{"x":0.845,"r":1.0049},{"x":0.85,"r":1.015},{"x":0.85,"r":1.008},{"x":0.855,"r":1.0189},{"x":0.855,"r":1.0019},
{"x":0.86,"r":1.0108},{"x":0.86,"r":1.0058},{"x":0.865,"r":1.0167},{"x":0.865,"r":1.0037},{"x":0.87,"r":1.0136},{"x":0.87,"r":1.0066},{"x":0.875,"r":1.0125},{"x":0.875,"r":1.0075},
{"x":0.88,"r":1.0174},{"x":0.88,"r":1.0024},{"x":0.885,"r":1.0103},{"x":0.885,"r":1.0053},{"x":0.89,"r":1.0152},{"x":0.89,"r":1.0002},{"x":0.895,"r":1.0201},{"x":0.895,"r":1.0081},
{"x":0.9,"r":1.011},{"x":0.9,"r":1.003},{"x":0.905,"r":1.0138},{"x":0.905,"r":1.0058},{"x":0.91,"r":1.0176},{"x":0.91,"r":0.9986},{"x":0.915,"r":1.0084},{"x":0.915,"r":1.0034},
{"x":0.92,"r":1.0152},{"x":0.92,"r":1.0002},{"x":0.925,"r":1.012},{"x":0.925,"r":1.008},{"x":0.93,"r":1.0198},{"x":0.93,"r":1.0018},{"x":0.935,"r":1.0106},{"x":0.935,"r":1.0056},
{"x":0.94,"r":1.0134},{"x":0.94,"r":0.9964},{"x":0.945,"r":1.0172},{"x":0.945,"r":1.0032},{"x":0.95,"r":1.008},{"x":0.95,"r":1.0},{"x":0.955,"r":1.0148},{"x":0.955,"r":1.0058},
{"x":0.96,"r":1.0116},{"x":0.96,"r":0.9976},{"x":0.965,"r":1.0084},{"x":0.965,"r":1.0034},{"x":0.97,"r":1.0152},{"x":0.97,"r":1.0012},{"x":0.975,"r":1.021},{"x":0.975,"r":0.998},
{"x":0.98,"r":1.0098},{"x":0.98,"r":1.0038},{"x":0.985,"r":1.0126},{"x":0.985,"r":0.9936},{"x":0.99,"r":1.0054},{"x":0.99,"r":0.9994},{"x":0.995,"r":1.0162},{"x":0.995,"r":1.0012},
{"x":1.0,"r":1.011},{"x":1.0,"r":1.004},
{"x":0.0025,"r":1.0038},{"x":0.0075,"r":0.9993},{"x":0.0125,"r":1.0058},{"x":0.0175,"r":1.0003},{"x":0.0225,"r":1.0028},{"x":0.0275,"r":0.9963},{"x":0.0325,"r":0.9998},{"x":0.0375,"r":1.0023},
{"x":0.0425,"r":0.9968},{"x":0.0475,"r":1.0033},{"x":0.0525,"r":0.9967},{"x":0.0575,"r":0.998},{"x":0.0625,"r":0.9933},{"x":0.0675,"r":0.9976},{"x":0.0725,"r":0.9989},{"x":0.0775,"r":0.9922},
{"x":0.0825,"r":0.9935},{"x":0.0875,"r":0.9888},{"x":0.0925,"r":0.9951},{"x":0.0975,"r":0.9924},{"x":0.1025,"r":0.9897},{"x":0.1075,"r":0.9951},{"x":0.1125,"r":0.9865},{"x":0.1175,"r":0.9909},
{"x":0.1225,"r":0.9883},{"x":0.1275,"r":0.9857},{"x":0.1325,"r":0.9911},{"x":0.1375,"r":0.9855},{"x":0.1425,"r":0.9869},{"x":0.1475,"r":0.9823},{"x":0.1525,"r":0.9878},{"x":0.1575,"r":0.9844},
{"x":0.1625,"r":0.982},{"x":0.1675,"r":0.9856},{"x":0.1725,"r":0.9792},{"x":0.1775,"r":0.9838},{"x":0.1825,"r":0.9794},{"x":0.1875,"r":0.986},{"x":0.1925,"r":0.9806},{"x":0.1975,"r":0.9832},
{"x":0.2025,"r":0.977},{"x":0.2075,"r":0.9809},{"x":0.2125,"r":0.9838},{"x":0.2175,"r":0.9787},{"x":0.2225,"r":0.9856},{"x":0.2275,"r":0.9795},{"x":0.2325,"r":0.9814},{"x":0.2375,"r":0.9773},
{"x":0.2425,"r":0.9822},{"x":0.2475,"r":0.9841},{"x":0.2525,"r":0.9782},{"x":0.2575,"r":0.9805},{"x":0.2625,"r":0.9768},{"x":0.2675,"r":0.9841},{"x":0.2725,"r":0.9824},{"x":0.2775,"r":0.9807},
{"x":0.2825,"r":0.987},{"x":0.2875,"r":0.9793},{"x":0.2925,"r":0.9846},{"x":0.2975,"r":0.9829},{"x":0.3025,"r":0.9813},{"x":0.3075,"r":0.9879},{"x":0.3125,"r":0.9835},{"x":0.3175,"r":0.9861},
{"x":0.3225,"r":0.9827},{"x":0.3275,"r":0.9893},{"x":0.3325,"r":0.9869},{"x":0.3375,"r":0.9855},{"x":0.3425,"r":0.9901},{"x":0.3475,"r":0.9847},{"x":0.3525,"r":0.9903},{"x":0.3575,"r":0.9869},
{"x":0.3625,"r":0.9945},{"x":0.3675,"r":0.9901},{"x":0.3725,"r":0.9937},{"x":0.3775,"r":0.9883},{"x":0.3825,"r":0.9929},{"x":0.3875,"r":0.9965},{"x":0.3925,"r":0.9921},{"x":0.3975,"r":0.9997},
{"x":0.4025,"r":0.9942},{"x":0.4075,"r":0.9965},{"x":0.4125,"r":0.9928},{"x":0.4175,"r":0.9981},{"x":0.4225,"r":1.0004},{"x":0.4275,"r":0.9947},{"x":0.4325,"r":0.997},{"x":0.4375,"r":0.9933},
{"x":0.4425,"r":1.0006},{"x":0.4475,"r":0.9989},{"x":0.4525,"r":0.9972},{"x":0.4575,"r":1.0035},{"x":0.4625,"r":0.9958},{"x":0.4675,"r":1.0011},{"x":0.4725,"r":0.9994},{"x":0.4775,"r":0.9977},
{"x":0.4825,"r":1.004},{"x":0.4875,"r":0.9993},{"x":0.4925,"r":1.0016},{"x":0.4975,"r":0.9979},{"x":0.5025,"r":1.0041},{"x":0.5075,"r":1.0012},{"x":0.5125,"r":0.9993},{"x":0.5175,"r":1.0034},
{"x":0.5225,"r":0.9975},{"x":0.5275,"r":1.0026},{"x":0.5325,"r":0.9987},{"x":0.5375,"r":1.0058},{"x":0.5425,"r":1.0009},{"x":0.5475,"r":1.004},{"x":0.5525,"r":0.9981},{"x":0.5575,"r":1.0022},
{"x":0.5625,"r":1.0053},{"x":0.5675,"r":1.0004},{"x":0.5725,"r":1.0075},{"x":0.5775,"r":1.0016},{"x":0.5825,"r":1.0037},{"x":0.5875,"r":0.9998},{"x":0.5925,"r":1.0049},{"x":0.5975,"r":1.007},
{"x":0.6025,"r":1.0011},{"x":0.6075,"r":1.0032},{"x":0.6125,"r":0.9993},{"x":0.6175,"r":1.0064},{"x":0.6225,"r":1.0045},{"x":0.6275,"r":1.0026},{"x":0.6325,"r":1.0087},{"x":0.6375,"r":1.0008},
{"x":0.6425,"r":1.0059},{"x":0.6475,"r":1.004},{"x":0.6525,"r":1.0021},{"x":0.6575,"r":1.0082},{"x":0.6625,"r":1.0033},{"x":0.6675,"r":1.0054},{"x":0.6725,"r":1.0015},{"x":0.6775,"r":1.0076},
{"x":0.6825,"r":1.0047},{"x":0.6875,"r":1.0028},{"x":0.6925,"r":1.0069},{"x":0.6975,"r":1.001},{"x":0.7025,"r":1.0061},{"x":0.7075,"r":1.0023},{"x":0.7125,"r":1.0095},{"x":0.7175,"r":1.0047},
{"x":0.7225,"r":1.0079},{"x":0.7275,"r":1.0021},{"x":0.7325,"r":1.0063},{"x":0.7375,"r":1.0095},{"x":0.7425,"r":1.0047},{"x":0.7475,"r":1.0119},{"x":0.7525,"r":1.0061},{"x":0.7575,"r":1.0083},
{"x":0.7625,"r":1.0045},{"x":0.7675,"r":1.0097},{"x":0.7725,"r":1.0119},{"x":0.7775,"r":1.0061},{"x":0.7825,"r":1.0083},{"x":0.7875,"r":1.0045},{"x":0.7925,"r":1.0117},{"x":0.7975,"r":1.0099},
{"x":0.8025,"r":1.0081},{"x":0.8075,"r":1.0142},{"x":0.8125,"r":1.0063},{"x":0.8175,"r":1.0114},{"x":0.8225,"r":1.0095},{"x":0.8275,"r":1.0076},{"x":0.8325,"r":1.0137},{"x":0.8375,"r":1.0088},
{"x":0.8425,"r":1.0109},{"x":0.8475,"r":1.007},{"x":0.8525,"r":1.013},{"x":0.8575,"r":1.0099},{"x":0.8625,"r":1.0078},{"x":0.8675,"r":1.0117},{"x":0.8725,"r":1.0056},{"x":0.8775,"r":1.0105},
{"x":0.8825,"r":1.0064},{"x":0.8875,"r":1.0133},{"x":0.8925,"r":1.0082},{"x":0.8975,"r":1.0111},{"x":0.9025,"r":1.0049},{"x":0.9075,"r":1.0087},{"x":0.9125,"r":1.0115},{"x":0.9175,"r":1.0063},
{"x":0.9225,"r":1.0131},{"x":0.9275,"r":1.0069},{"x":0.9325,"r":1.0087},{"x":0.9375,"r":1.0045},{"x":0.9425,"r":1.0093},{"x":0.9475,"r":1.0111},{"x":0.9525,"r":1.0049},{"x":0.9575,"r":1.0067},
{"x":0.9625,"r":1.0025},{"x":0.9675,"r":1.0093},{"x":0.9725,"r":1.0071},{"x":0.9775,"r":1.0049},{"x":0.9825,"r":1.0107},{"x":0.9875,"r":1.0025},{"x":0.9925,"r":1.0073},{"x":0.9975,"r":1.0051},
{"x":0.01,"r":1.1193},{"x":0.053,"r":1.1005},{"x":0.142,"r":1.0656},{"x":0.095,"r":1.0508},{"x":0.044,"r":1.032},{"x":0.186,"r":1.034},{"x":0.186,"r":1.0285},{"x":0.286,"r":1.078},
{"x":0.33,"r":1.039},{"x":0.465,"r":1.0676},{"x":0.563,"r":1.112},{"x":0.742,"r":1.0475},{"x":0.847,"r":1.048},{"x":0.873,"r":1.045},{"x":0.972,"r":1.1397},{"x":0.972,"r":1.044},
{"x":0.86,"r":1.04},{"x":0.81,"r":1.035},{"x":0.142,"r":1.023},{"x":0.2,"r":1.016},{"x":0.68,"r":0.9847},{"x":0.015,"r":1.025},{"x":0.02,"r":1.02},{"x":0.06,"r":1.015},
{"x":0.35,"r":1.022},{"x":0.38,"r":1.019},{"x":0.45,"r":1.018},{"x":0.55,"r":1.025},{"x":0.62,"r":1.027},{"x":0.7,"r":1.026},{"x":0.77,"r":1.03},{"x":0.9,"r":1.03},
{"x":0.93,"r":1.029},{"x":0.98,"r":1.018},{"x":0.25,"r":1.008},{"x":0.28,"r":1.012},{"x":0.12,"r":1.01},{"x":0.19,"r":0.9705},{"x":0.23,"r":0.9695}
  ]
 },
 "hconcat": [
  {
   "width": 376, "height": 526,
   "layer": [
    {
     "data": {"name": "lc"},
     "mark": {"type": "square", "size": 21, "color": "black", "opacity": 1, "clip": true},
     "encoding": {
      "x": {"field": "t", "type": "quantitative", "scale": {"domain": [-1.2, 71.8], "nice": false, "zero": false},
        "axis": {"orient": "bottom", "title": "times- 2228 (d)", "format": "d", "values": [0,5,10,15,20,25,30,35,40,45,50,55,60,65,70],
          "labelExpr": "datum.value % 20 === 0 ? datum.label : ''",
          "tickSize": {"condition": {"test": "datum.value % 20 === 0", "value": -9}, "value": -5}}},
      "y": {"field": "f", "type": "quantitative", "scale": {"domain": [2023, 2793], "nice": false, "zero": false},
        "axis": {"orient": "left", "title": "flux", "format": "d", "values": [2050,2100,2150,2200,2250,2300,2350,2400,2450,2500,2550,2600,2650,2700,2750],
          "labelExpr": "datum.value % 200 === 0 ? datum.label : ''",
          "tickSize": {"condition": {"test": "datum.value % 200 === 0", "value": -9}, "value": -5}}}
     }
    },
    {
     "data": {"values": [{"t": 10, "f": 2400}]},
     "mark": {"type": "point", "opacity": 0},
     "encoding": {
      "x": {"field": "t", "type": "quantitative",
        "axis": {"orient": "top", "title": null, "labels": false, "values": [0,5,10,15,20,25,30,35,40,45,50,55,60,65,70],
          "tickSize": {"condition": {"test": "datum.value % 20 === 0", "value": -9}, "value": -5}}},
      "y": {"field": "f", "type": "quantitative",
        "axis": {"orient": "right", "title": null, "labels": false, "values": [2050,2100,2150,2200,2250,2300,2350,2400,2450,2500,2550,2600,2650,2700,2750],
          "tickSize": {"condition": {"test": "datum.value % 200 === 0", "value": -9}, "value": -5}}}
     }
    },
    {
     "data": {"values": [{"label": "(V-K)₀= 5.31"}]},
     "mark": {"type": "text", "fontSize": 36, "font": "Liberation Sans", "align": "center", "baseline": "middle", "color": "black"},
     "encoding": {
      "x": {"datum": 30.3, "type": "quantitative", "axis": null},
      "y": {"datum": 2707, "type": "quantitative", "axis": null},
      "text": {"field": "label"}
     }
    }
   ],
   "resolve": {"axis": {"x": "independent", "y": "independent"}}
  },
  {
   "width": 376, "height": 526,
   "title": "211059775/HCG414",
   "layer": [
    {
     "data": {"name": "pg"},
     "mark": {"type": "line", "color": "black", "strokeWidth": 4, "clip": true},
     "encoding": {
      "x": {"field": "p", "type": "quantitative", "scale": {"type": "log", "domain": [0.05, 35], "nice": false},
        "axis": {"orient": "bottom", "title": "Period", "format": ".1f",
          "values": [0.05,0.06,0.07,0.08,0.09,0.1,0.2,0.3,0.4,0.5,0.6,0.7,0.8,0.9,1,2,3,4,5,6,7,8,9,10,20,30],
          "labelExpr": "(datum.value === 0.1 || datum.value === 1 || datum.value === 10) ? datum.label : ''",
          "tickSize": {"condition": {"test": "datum.value === 0.1 || datum.value === 1 || datum.value === 10", "value": -9}, "value": -5}}},
      "y": {"field": "w", "type": "quantitative", "scale": {"domain": [0, 100], "nice": false},
        "axis": {"orient": "left", "title": "Power", "labelFlush": true, "labelFlushOffset": 0,
          "values": [0,5,10,15,20,25,30,35,40,45,50,55,60,65,70,75,80,85,90,95,100],
          "labelExpr": "datum.value % 20 === 0 ? datum.label : ''",
          "tickSize": {"condition": {"test": "datum.value % 20 === 0", "value": -9}, "value": -5}}}
     }
    },
    {
     "data": {"values": [{"p": 1, "w": 50}]},
     "mark": {"type": "point", "opacity": 0},
     "encoding": {
      "x": {"field": "p", "type": "quantitative",
        "axis": {"orient": "top", "title": null, "labels": false,
          "values": [0.05,0.06,0.07,0.08,0.09,0.1,0.2,0.3,0.4,0.5,0.6,0.7,0.8,0.9,1,2,3,4,5,6,7,8,9,10,20,30],
          "tickSize": {"condition": {"test": "datum.value === 0.1 || datum.value === 1 || datum.value === 10", "value": -9}, "value": -5}}},
      "y": {"field": "w", "type": "quantitative",
        "axis": {"orient": "right", "title": null, "labels": false,
          "values": [0,5,10,15,20,25,30,35,40,45,50,55,60,65,70,75,80,85,90,95,100],
          "tickSize": {"condition": {"test": "datum.value % 20 === 0", "value": -9}, "value": -5}}}
     }
    }
   ],
   "resolve": {"axis": {"x": "independent", "y": "independent"}}
  },
  {
   "width": 374, "height": 526,
   "title": "0.461d",
   "layer": [
    {
     "data": {"name": "ph"},
     "mark": {"type": "square", "size": 16, "color": "black", "opacity": 1, "clip": true},
     "encoding": {
      "x": {"field": "x", "type": "quantitative", "scale": {"domain": [0, 1], "nice": false},
        "axis": {"orient": "bottom", "title": "phase", "format": ".1f",
          "values": [0,0.05,0.1,0.15,0.2,0.25,0.3,0.35,0.4,0.45,0.5,0.55,0.6,0.65,0.7,0.75,0.8,0.85,0.9,0.95,1],
          "labelExpr": "abs(datum.value*5 - round(datum.value*5)) < 0.001 ? datum.label : ''",
          "tickSize": {"condition": {"test": "abs(datum.value*5 - round(datum.value*5)) < 0.001", "value": -9}, "value": -5}}},
      "y": {"field": "r", "type": "quantitative", "scale": {"domain": [0.839, 1.16], "nice": false, "zero": false},
        "axis": {"orient": "left", "title": "relative flux", "format": ".2f",
          "values": [0.84,0.85,0.86,0.87,0.88,0.89,0.9,0.91,0.92,0.93,0.94,0.95,0.96,0.97,0.98,0.99,1,1.01,1.02,1.03,1.04,1.05,1.06,1.07,1.08,1.09,1.1,1.11,1.12,1.13,1.14,1.15],
          "labelExpr": "abs(datum.value*20 - round(datum.value*20)) < 0.001 ? datum.label : ''",
          "tickSize": {"condition": {"test": "abs(datum.value*20 - round(datum.value*20)) < 0.001", "value": -9}, "value": -5}}}
     }
    },
    {
     "data": {"values": [{"x": 0.5, "r": 1.0}]},
     "mark": {"type": "point", "opacity": 0},
     "encoding": {
      "x": {"field": "x", "type": "quantitative",
        "axis": {"orient": "top", "title": null, "labels": false,
          "values": [0,0.05,0.1,0.15,0.2,0.25,0.3,0.35,0.4,0.45,0.5,0.55,0.6,0.65,0.7,0.75,0.8,0.85,0.9,0.95,1],
          "tickSize": {"condition": {"test": "abs(datum.value*5 - round(datum.value*5)) < 0.001", "value": -9}, "value": -5}}},
      "y": {"field": "r", "type": "quantitative",
        "axis": {"orient": "right", "title": null, "labels": false,
          "values": [0.84,0.85,0.86,0.87,0.88,0.89,0.9,0.91,0.92,0.93,0.94,0.95,0.96,0.97,0.98,0.99,1,1.01,1.02,1.03,1.04,1.05,1.06,1.07,1.08,1.09,1.1,1.11,1.12,1.13,1.14,1.15],
          "tickSize": {"condition": {"test": "abs(datum.value*20 - round(datum.value*20)) < 0.001", "value": -9}, "value": -5}}}
     }
    }
   ],
   "resolve": {"axis": {"x": "independent", "y": "independent"}}
  }
 ]
}
